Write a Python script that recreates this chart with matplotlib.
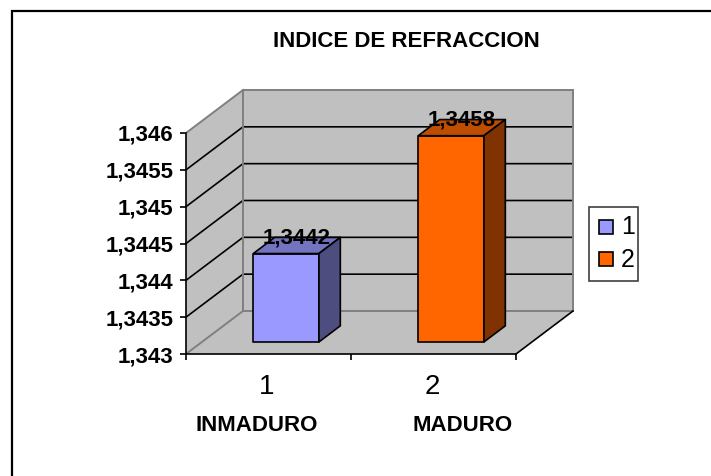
"""
Indice de refraccion: 3D style column chart drawn on a flat axes.
"""

import matplotlib
matplotlib.use("Agg")
import matplotlib.pyplot as plt
from matplotlib.patches import Polygon, Rectangle

plt.rcParams["font.family"] = ["Liberation Sans", "DejaVu Sans"]

# data
title = "INDICE DE REFRACCION"
categories = ["1", "2"]
names = ["INMADURO", "MADURO"]
values = [1.3442, 1.3458]
value_labels = ["1,3442", "1,3458"]
y_ticks = [1.343, 1.3435, 1.344, 1.3445, 1.345, 1.3455, 1.346]
y_tick_labels = ["1,343", "1,3435", "1,344", "1,3445", "1,345", "1,3455", "1,346"]
legend_labels = ["1", "2"]

W, H = 711, 476
GREY = "#c0c0c0"
WALL_EDGE = "#808080"
BOLD_SIZE = 16
front_colors = ["#9999ff", "#ff6600"]
top_colors = ["#7373bf", "#bf4d00"]
side_colors = ["#4d4d80", "#803300"]

fig = plt.figure(figsize=(W / 100, H / 100), dpi=100)

# whole figure in pixels, for the frame and legend
bg = fig.add_axes([0, 0, 1, 1])
bg.set_xlim(0, W)
bg.set_ylim(H, 0)
bg.axis("off")
# only the top and left edges of the frame are in the picture
bg.plot([11.5, 11.5, W], [H, 11, 11], color="black", lw=1.6, solid_joinstyle="miter")

# front plane of the chart: 186..516 px, 133..354 px
ax = fig.add_axes([186 / W, 1 - 354 / H, 330 / W, 221 / H])
ax.set_xlim(0, 2)
ax.set_ylim(y_ticks[0], y_ticks[-1])
ax.patch.set_alpha(0)
for s in ["top", "right"]:
    ax.spines[s].set_visible(False)
for s in ["left", "bottom"]:
    ax.spines[s].set_linewidth(1.2)

# depth of the box in data units
ymin, ymax = y_ticks[0], y_ticks[-1]
dx = 57 / 165
dy = 43 / 221 * (ymax - ymin)


def shift(x, y, depth):
    return (x + dx * depth, y + dy * depth)


def poly(points, fc, ec, lw, z):
    ax.add_patch(Polygon(points, closed=True, fc=fc, ec=ec, lw=lw, zorder=z,
                         clip_on=False, joinstyle="round"))


# floor and walls
poly([shift(0, ymin, 0), shift(2, ymin, 0), shift(2, ymin, 1), shift(0, ymin, 1)],
     GREY, "none", 0, 1)
poly([shift(0, ymin, 0), shift(0, ymax, 0), shift(0, ymax, 1), shift(0, ymin, 1)],
     GREY, "none", 0, 1)
poly([shift(0, ymin, 1), shift(0, ymax, 1), shift(2, ymax, 1), shift(2, ymin, 1)],
     GREY, "none", 0, 1)

# gridlines on side and back walls
for t in y_ticks[1:-1]:
    xs, ys = zip(shift(0, t, 0), shift(0, t, 1), shift(2, t, 1))
    ax.plot(xs, ys, color="black", lw=1.2, zorder=2, clip_on=False)

# grey wall outlines
for a, b in [(shift(0, ymax, 0), shift(0, ymax, 1)),
             (shift(0, ymax, 1), shift(2, ymax, 1)),
             (shift(2, ymax, 1), shift(2, ymin, 1)),
             (shift(2, ymin, 1), shift(0, ymin, 1)),
             (shift(0, ymin, 1), shift(0, ymax, 1)),
             (shift(0, ymin, 1), shift(0, ymin, 0))]:
    ax.plot([a[0], b[0]], [a[1], b[1]], color=WALL_EDGE, lw=1.4, zorder=2.5,
            clip_on=False)

# right edge of the floor
a, b = shift(2, ymin, 0), shift(2, ymin, 1)
ax.plot([a[0], b[0]], [a[1], b[1]], color="black", lw=1.2, zorder=3, clip_on=False)

# columns
bar_w = 0.398
d0, d1 = 0.28, 0.655
for i, v in enumerate(values):
    x0 = i + 0.51 - bar_w / 2
    x1 = x0 + bar_w
    poly([shift(x0, ymin, d0), shift(x1, ymin, d0), shift(x1, v, d0), shift(x0, v, d0)],
         front_colors[i], "black", 1.2, 5)
    poly([shift(x0, v, d0), shift(x1, v, d0), shift(x1, v, d1), shift(x0, v, d1)],
         top_colors[i], "black", 1.2, 5)
    poly([shift(x1, ymin, d0), shift(x1, ymin, d1), shift(x1, v, d1), shift(x1, v, d0)],
         side_colors[i], "black", 1.2, 5)
    cx, cy = shift(x0 + bar_w / 2, v, 0.5)
    ax.annotate(value_labels[i], (cx, cy), xytext=(-2, 6), textcoords="offset pixels",
                ha="center", va="center", fontsize=BOLD_SIZE, fontweight="bold",
                color="black", zorder=6, annotation_clip=False)

# axes ticks and labels
ax.set_yticks(y_ticks)
ax.set_yticklabels(y_tick_labels, fontsize=BOLD_SIZE, fontweight="bold")
ax.tick_params(axis="y", length=4, width=1.2, pad=5)
ax.set_xticks([0, 1, 2])
ax.set_xticklabels([])
ax.tick_params(axis="x", length=4, width=1.2, direction="out")

# category numbers and names sit in the lower part of the figure
for i, c in enumerate(categories):
    ax.annotate(c, (i + 0.5, ymin), xytext=(-1.5, -33), textcoords="offset pixels",
                ha="center", va="center", fontsize=20, annotation_clip=False)
bg.text(256.5, 425.5, names[0], ha="center", va="center", fontsize=BOLD_SIZE, fontweight="bold")
bg.text(463, 425.5, names[1], ha="center", va="center", fontsize=BOLD_SIZE, fontweight="bold")

bg.text(406.5, 41.5, title, ha="center", va="center", fontsize=BOLD_SIZE, fontweight="bold")

# legend
bg.add_patch(Rectangle((588.5, 207), 49, 73.5, fc="white", ec="#404040", lw=1.2))
for i, lab in enumerate(legend_labels):
    yc = 226.5 + i * 32.7
    bg.add_patch(Rectangle((598.5, yc - 7), 14, 14, fc=front_colors[i], ec="black", lw=1.2))
    bg.text(621, yc + 0.5, lab, ha="left", va="center", fontsize=18)

fig.savefig("out.png", dpi=100)
